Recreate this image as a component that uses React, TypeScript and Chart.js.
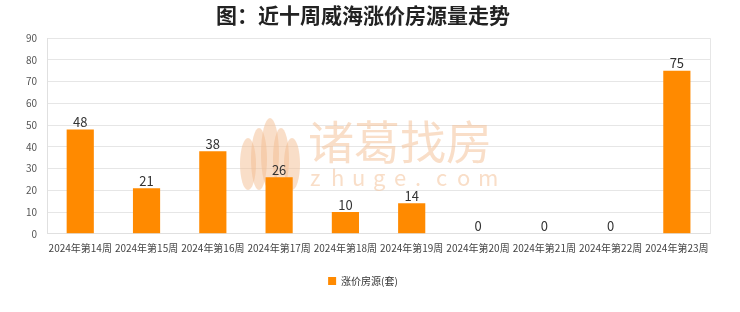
import React, { useEffect, useRef } from "react";
import { Chart, registerables } from "chart.js";

Chart.register(...registerables);

const categories = [
  "2024年第14周",
  "2024年第15周",
  "2024年第16周",
  "2024年第17周",
  "2024年第18周",
  "2024年第19周",
  "2024年第20周",
  "2024年第21周",
  "2024年第22周",
  "2024年第23周",
];
const riseCounts = [48, 21, 38, 26, 10, 14, 0, 0, 0, 75];
const seriesName = "涨价房源(套)";
const chartTitle = "图：近十周威海涨价房源量走势";
const yMax = 90;
const yStep = 10;

const FONT = "'Noto Sans CJK SC', 'Noto Sans', sans-serif";

const watermarkPlugin = {
  id: "watermark",
  beforeDatasetsDraw(chart: any) {
    const { ctx } = chart;
    ctx.save();
    ctx.fillStyle = "rgba(244, 190, 145, 0.5)";
    const cx = 270;
    const base = 190;
    const petals = [
      { dx: -22, h: 52, w: 8 },
      { dx: -11, h: 62, w: 8 },
      { dx: 0, h: 72, w: 9 },
      { dx: 11, h: 62, w: 8 },
      { dx: 22, h: 52, w: 8 },
    ];
    for (const p of petals) {
      ctx.beginPath();
      ctx.ellipse(cx + p.dx, base - p.h / 2, p.w, p.h / 2, 0, 0, Math.PI * 2);
      ctx.fill();
    }
    ctx.font = `46px ${FONT}`;
    ctx.textBaseline = "middle";
    ctx.textAlign = "left";
    ctx.fillText("诸葛找房", 308, 142);
    ctx.font = `22px ${FONT}`;
    const txt = "zhuge.com";
    let x = 310;
    for (const ch of txt.split("")) {
      ctx.fillText(ch, x, 178);
      x += 21;
    }
    ctx.restore();
  },
};

const labelsPlugin = {
  id: "barLabels",
  afterDatasetsDraw(chart: any) {
    const { ctx } = chart;
    const meta = chart.getDatasetMeta(0);
    const data = chart.data.datasets[0].data as number[];
    ctx.save();
    ctx.font = `13px ${FONT}`;
    ctx.fillStyle = "#333333";
    ctx.textAlign = "center";
    ctx.textBaseline = "bottom";
    meta.data.forEach((bar: any, i: number) => {
      ctx.fillText(String(data[i]), bar.x, bar.y - 1);
    });
    const a = chart.chartArea;
    ctx.strokeStyle = "#e6e6e6";
    ctx.lineWidth = 1;
    ctx.beginPath();
    ctx.moveTo(Math.round(a.right) + 0.5, a.top);
    ctx.lineTo(Math.round(a.right) + 0.5, a.bottom);
    ctx.stroke();
    ctx.restore();
  },
};

export default function App() {
  const ref = useRef<HTMLCanvasElement>(null);
  useEffect(() => {
    document.body.style.margin = "0";
    const chart = new Chart(ref.current!, {
      type: "bar",
      data: {
        labels: categories,
        datasets: [
          {
            label: seriesName,
            data: riseCounts,
            backgroundColor: "#FF8A00",
            borderWidth: 0,
            barPercentage: 0.41,
            categoryPercentage: 1,
          },
        ],
      },
      options: {
        animation: false,
        responsive: false,
        maintainAspectRatio: false,
        layout: { padding: { left: 16, right: 30, top: 0, bottom: 16 } },
        plugins: {
          title: {
            display: true,
            text: chartTitle,
            color: "#222222",
            font: { family: FONT, size: 21, weight: "bold" },
            padding: { top: 2, bottom: 11 },
          },
          legend: {
            position: "bottom",
            title: {
              display: true,
              text: " ",
              font: { family: FONT, size: 1 },
              padding: { top: 0, bottom: 9 },
            },
            labels: {
              boxWidth: 8,
              boxHeight: 8,
              color: "#333333",
              font: { family: FONT, size: 10 },
              padding: 12,
            },
          },
          tooltip: { enabled: false },
        },
        scales: {
          x: {
            grid: { display: false },
            border: { display: true, color: "#e0e0e0" },
            ticks: {
              color: "#444444",
              font: { family: FONT, size: 10 },
              maxRotation: 0,
              autoSkip: false,
              padding: 0,
            },
          },
          y: {
            min: 0,
            max: yMax,
            grid: { color: "#e6e6e6", drawTicks: false },
            border: { display: true, color: "#e0e0e0" },
            ticks: {
              stepSize: yStep,
              color: "#555555",
              font: { family: FONT, size: 10 },
              padding: 10,
            },
          },
        },
      },
      plugins: [watermarkPlugin, labelsPlugin],
    });
    return () => chart.destroy();
  }, []);
  return (
    <div style={{ width: 740, height: 312, background: "#fff" }}>
      <canvas ref={ref} width={740} height={312} />
    </div>
  );
}
